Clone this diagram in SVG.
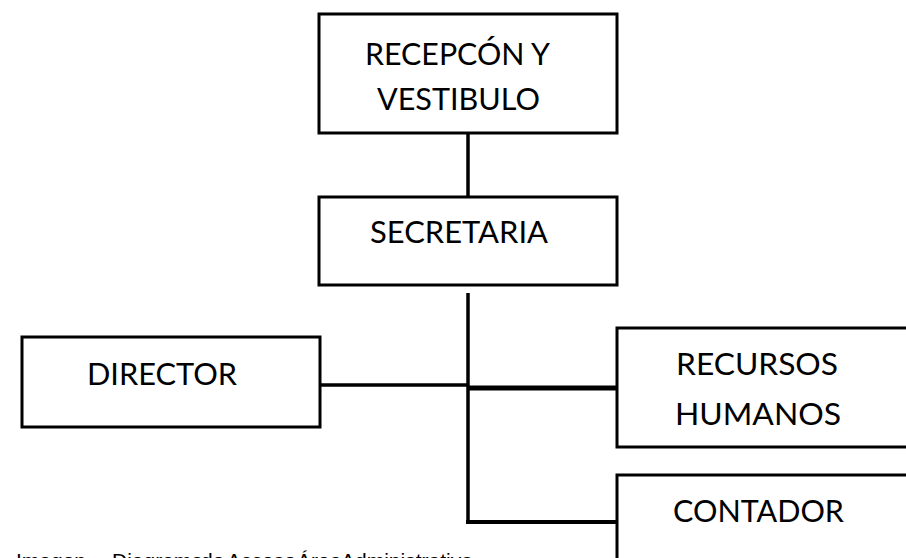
<svg xmlns="http://www.w3.org/2000/svg" width="906" height="558" viewBox="0 0 906 558">
<style>
.box{fill:#fff;stroke:#000;stroke-width:3}
.lbl{font-family:Lato,"Open Sans",sans-serif;font-size:31px;fill:#000}
.con{stroke:#000;stroke-width:3.5;fill:none}
.cap{font-family:"Liberation Sans",Arial,sans-serif;font-size:21px;fill:#000}
</style>
<rect width="906" height="558" fill="#fff"/>
<g id="connectors">
<line class="con" x1="468" y1="133" x2="468" y2="197"/>
<line class="con" x1="468" y1="293" x2="468" y2="524"/>
<line class="con" x1="320" y1="385" x2="468" y2="385"/>
<line class="con" x1="468" y1="388" x2="617" y2="388" style="stroke-width:5"/>
<line class="con" x1="466" y1="522" x2="617" y2="522" style="stroke-width:4"/>
</g>
<g id="recepcion">
<rect class="box" x="319" y="14" width="298" height="119"/>
<text class="lbl" x="365" y="65" textLength="185" lengthAdjust="spacingAndGlyphs">RECEPCÓN Y</text>
<text class="lbl" x="377" y="110" textLength="163" lengthAdjust="spacingAndGlyphs">VESTIBULO</text>
</g>
<g id="secretaria">
<rect class="box" x="319" y="197" width="298" height="88"/>
<text class="lbl" x="370" y="243" textLength="178" lengthAdjust="spacingAndGlyphs">SECRETARIA</text>
</g>
<g id="director">
<rect class="box" x="22" y="337" width="298" height="90"/>
<text class="lbl" x="87" y="385" textLength="150" lengthAdjust="spacingAndGlyphs">DIRECTOR</text>
</g>
<g id="recursos">
<rect class="box" x="617" y="328" width="300" height="119"/>
<text class="lbl" x="676" y="375" textLength="162" lengthAdjust="spacingAndGlyphs">RECURSOS</text>
<text class="lbl" x="675" y="425" textLength="166" lengthAdjust="spacingAndGlyphs">HUMANOS</text>
</g>
<g id="contador">
<rect class="box" x="617" y="475" width="300" height="100"/>
<text class="lbl" x="673" y="522" textLength="171" lengthAdjust="spacingAndGlyphs">CONTADOR</text>
</g>
<g id="caption">
<text class="cap" y="568"><tspan x="16">Imagen</tspan><tspan x="112">Diagrama</tspan><tspan x="201">de</tspan><tspan x="227">Acceso</tspan><tspan x="297">Área</tspan><tspan x="341">Administrativa</tspan></text>
</g>
</svg>
